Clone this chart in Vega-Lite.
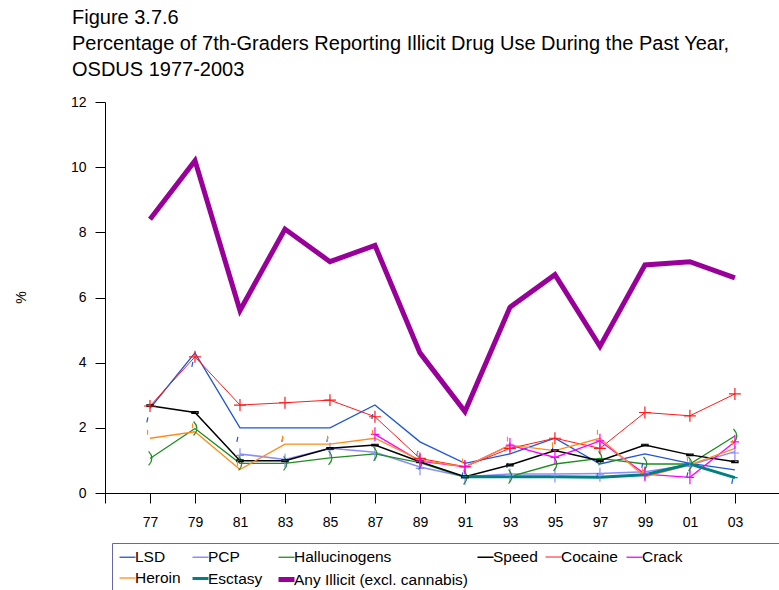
{
  "$schema": "https://vega.github.io/schema/vega-lite/v6.json",
  "width": 674,
  "height": 391,
  "autosize": {"type": "none"},
  "padding": {"left": 105, "top": 102, "right": 0, "bottom": 97},
  "background": "white",
  "config": {
    "view": {"stroke": null},
    "font": "Liberation Sans",
    "axis": {"labelFont": "Liberation Sans", "titleFont": "Liberation Sans", "labelColor": "black", "titleColor": "black", "domainColor": "black", "tickColor": "black", "domainWidth": 1, "tickWidth": 1, "grid": false},
    "legend": {
      "orient": "none", "legendX": 7, "legendY": 441, "direction": "horizontal", "columns": 6, "gridAlign": "each",
      "columnPadding": 5, "rowPadding": 3, "symbolType": "stroke", "symbolSize": 256,
      "labelFont": "Liberation Sans", "labelFontSize": 15.5, "labelColor": "black", "labelOffset": -3, "labelLimit": 300,
      "strokeColor": "#6666aa", "padding": 5, "titleOrient": "right", "titleOpacity": 0, "titleAngle": 0, "titlePadding": 100, "titleFontSize": 20
    }
  },
  "title": {
    "text": ["Figure 3.7.6", "Percentage of 7th-Graders Reporting Illicit Drug Use During the Past Year,", "OSDUS 1977-2003"],
    "anchor": "start", "frame": "group", "dx": -33, "fontSize": 20, "fontWeight": "normal", "lineHeight": 26, "offset": 15, "color": "black", "font": "Liberation Sans"
  },
  "data": {"values": [
    {"series": "LSD", "year": 1977, "pct": 2.6}, {"series": "LSD", "year": 1979, "pct": 4.3}, {"series": "LSD", "year": 1981, "pct": 2.0}, {"series": "LSD", "year": 1983, "pct": 2.0}, {"series": "LSD", "year": 1985, "pct": 2.0}, {"series": "LSD", "year": 1987, "pct": 2.7}, {"series": "LSD", "year": 1989, "pct": 1.57}, {"series": "LSD", "year": 1991, "pct": 0.91}, {"series": "LSD", "year": 1993, "pct": 1.2}, {"series": "LSD", "year": 1995, "pct": 1.68}, {"series": "LSD", "year": 1997, "pct": 0.89}, {"series": "LSD", "year": 1999, "pct": 1.2}, {"series": "LSD", "year": 2001, "pct": 0.91}, {"series": "LSD", "year": 2003, "pct": 0.71},
    {"series": "PCP", "year": 1981, "pct": 1.2}, {"series": "PCP", "year": 1983, "pct": 1.03}, {"series": "PCP", "year": 1985, "pct": 1.37}, {"series": "PCP", "year": 1987, "pct": 1.25}, {"series": "PCP", "year": 1989, "pct": 0.8}, {"series": "PCP", "year": 1991, "pct": 0.5}, {"series": "PCP", "year": 1993, "pct": 0.58}, {"series": "PCP", "year": 1995, "pct": 0.58}, {"series": "PCP", "year": 1997, "pct": 0.6}, {"series": "PCP", "year": 1999, "pct": 0.65}, {"series": "PCP", "year": 2001, "pct": 0.86}, {"series": "PCP", "year": 2003, "pct": 1.27},
    {"series": "Hallucinogens", "year": 1977, "pct": 1.06}, {"series": "Hallucinogens", "year": 1979, "pct": 1.98}, {"series": "Hallucinogens", "year": 1981, "pct": 0.91}, {"series": "Hallucinogens", "year": 1983, "pct": 0.91}, {"series": "Hallucinogens", "year": 1985, "pct": 1.08}, {"series": "Hallucinogens", "year": 1987, "pct": 1.2}, {"series": "Hallucinogens", "year": 1989, "pct": 0.93}, {"series": "Hallucinogens", "year": 1991, "pct": 0.48}, {"series": "Hallucinogens", "year": 1993, "pct": 0.5}, {"series": "Hallucinogens", "year": 1995, "pct": 0.89}, {"series": "Hallucinogens", "year": 1997, "pct": 1.06}, {"series": "Hallucinogens", "year": 1999, "pct": 0.89}, {"series": "Hallucinogens", "year": 2001, "pct": 0.89}, {"series": "Hallucinogens", "year": 2003, "pct": 1.75},
    {"series": "Speed", "year": 1977, "pct": 2.68}, {"series": "Speed", "year": 1979, "pct": 2.47}, {"series": "Speed", "year": 1981, "pct": 0.99}, {"series": "Speed", "year": 1983, "pct": 0.99}, {"series": "Speed", "year": 1985, "pct": 1.37}, {"series": "Speed", "year": 1987, "pct": 1.47}, {"series": "Speed", "year": 1989, "pct": 0.96}, {"series": "Speed", "year": 1991, "pct": 0.5}, {"series": "Speed", "year": 1993, "pct": 0.86}, {"series": "Speed", "year": 1995, "pct": 1.3}, {"series": "Speed", "year": 1997, "pct": 0.99}, {"series": "Speed", "year": 1999, "pct": 1.47}, {"series": "Speed", "year": 2001, "pct": 1.17}, {"series": "Speed", "year": 2003, "pct": 0.96},
    {"series": "Cocaine", "year": 1977, "pct": 2.67}, {"series": "Cocaine", "year": 1979, "pct": 4.18}, {"series": "Cocaine", "year": 1981, "pct": 2.7}, {"series": "Cocaine", "year": 1983, "pct": 2.77}, {"series": "Cocaine", "year": 1985, "pct": 2.85}, {"series": "Cocaine", "year": 1987, "pct": 2.34}, {"series": "Cocaine", "year": 1989, "pct": 1.06}, {"series": "Cocaine", "year": 1991, "pct": 0.81}, {"series": "Cocaine", "year": 1993, "pct": 1.37}, {"series": "Cocaine", "year": 1995, "pct": 1.68}, {"series": "Cocaine", "year": 1997, "pct": 1.37}, {"series": "Cocaine", "year": 1999, "pct": 2.47}, {"series": "Cocaine", "year": 2001, "pct": 2.37}, {"series": "Cocaine", "year": 2003, "pct": 3.04},
    {"series": "Crack", "year": 1987, "pct": 1.8}, {"series": "Crack", "year": 1989, "pct": 0.98}, {"series": "Crack", "year": 1991, "pct": 0.8}, {"series": "Crack", "year": 1993, "pct": 1.47}, {"series": "Crack", "year": 1995, "pct": 1.09}, {"series": "Crack", "year": 1997, "pct": 1.6}, {"series": "Crack", "year": 1999, "pct": 0.58}, {"series": "Crack", "year": 2001, "pct": 0.48}, {"series": "Crack", "year": 2003, "pct": 1.57},
    {"series": "Heroin", "year": 1977, "pct": 1.68}, {"series": "Heroin", "year": 1979, "pct": 1.88}, {"series": "Heroin", "year": 1981, "pct": 0.72}, {"series": "Heroin", "year": 1983, "pct": 1.5}, {"series": "Heroin", "year": 1985, "pct": 1.5}, {"series": "Heroin", "year": 1987, "pct": 1.68}, {"series": "Heroin", "year": 1989, "pct": 1.01}, {"series": "Heroin", "year": 1991, "pct": 0.8}, {"series": "Heroin", "year": 1993, "pct": 1.47}, {"series": "Heroin", "year": 1995, "pct": 1.3}, {"series": "Heroin", "year": 1997, "pct": 1.68}, {"series": "Heroin", "year": 1999, "pct": 0.5}, {"series": "Heroin", "year": 2001, "pct": 0.86}, {"series": "Heroin", "year": 2003, "pct": 1.37},
    {"series": "Esctasy", "year": 1991, "pct": 0.5}, {"series": "Esctasy", "year": 1993, "pct": 0.5}, {"series": "Esctasy", "year": 1995, "pct": 0.5}, {"series": "Esctasy", "year": 1997, "pct": 0.48}, {"series": "Esctasy", "year": 1999, "pct": 0.56}, {"series": "Esctasy", "year": 2001, "pct": 0.89}, {"series": "Esctasy", "year": 2003, "pct": 0.47},
    {"series": "Any Illicit (excl. cannabis)", "year": 1977, "pct": 8.4}, {"series": "Any Illicit (excl. cannabis)", "year": 1979, "pct": 10.2}, {"series": "Any Illicit (excl. cannabis)", "year": 1981, "pct": 5.6}, {"series": "Any Illicit (excl. cannabis)", "year": 1983, "pct": 8.1}, {"series": "Any Illicit (excl. cannabis)", "year": 1985, "pct": 7.1}, {"series": "Any Illicit (excl. cannabis)", "year": 1987, "pct": 7.6}, {"series": "Any Illicit (excl. cannabis)", "year": 1989, "pct": 4.3}, {"series": "Any Illicit (excl. cannabis)", "year": 1991, "pct": 2.5}, {"series": "Any Illicit (excl. cannabis)", "year": 1993, "pct": 5.7}, {"series": "Any Illicit (excl. cannabis)", "year": 1995, "pct": 6.7}, {"series": "Any Illicit (excl. cannabis)", "year": 1997, "pct": 4.5}, {"series": "Any Illicit (excl. cannabis)", "year": 1999, "pct": 7.0}, {"series": "Any Illicit (excl. cannabis)", "year": 2001, "pct": 7.1}, {"series": "Any Illicit (excl. cannabis)", "year": 2003, "pct": 6.6}
  ]},
  "encoding": {
    "x": {"field": "year", "type": "quantitative", "scale": {"domain": [1975, 2004.96], "nice": false, "zero": false},
      "axis": {"values": [1975, 1977, 1979, 1981, 1983, 1985, 1987, 1989, 1991, 1993, 1995, 1997, 1999, 2001, 2003],
        "labelExpr": "datum.value == 1975 ? '' : substring(toString(datum.value), 2)", "tickSize": 10, "labelPadding": 12, "labelFontSize": 14, "title": null, "labelFlush": false, "labelOverlap": false}},
    "y": {"field": "pct", "type": "quantitative", "scale": {"domain": [0, 12], "nice": false},
      "axis": {"values": [0, 2, 4, 6, 8, 10, 12], "tickSize": 10, "labelPadding": 9, "labelFontSize": 14, "title": "%", "titleFontSize": 14, "titleFontWeight": "normal", "titleX": -77, "titleY": 195}}
  },
  "layer": [
    {
      "mark": {"type": "line", "clip": false},
      "encoding": {
        "color": {"field": "series", "type": "nominal", "title": "                        ",
          "scale": {"domain": ["LSD", "PCP", "Hallucinogens", "Speed", "Cocaine", "Crack", "Heroin", "Esctasy", "Any Illicit (excl. cannabis)"],
            "range": ["#1f55d6", "#8c8cff", "#1e8c1e", "#000000", "#ff1a1a", "#ff00ff", "#ff8c1a", "#008080", "#990099"]}},
        "strokeWidth": {"field": "series", "type": "ordinal", "title": "                        ",
          "scale": {"type": "ordinal", "domain": ["LSD", "PCP", "Hallucinogens", "Speed", "Cocaine", "Crack", "Heroin", "Esctasy", "Any Illicit (excl. cannabis)"],
            "range": [1.3, 1.5, 1.3, 1.5, 1, 1.3, 1.3, 3, 5]}}
      }
    },
    {
      "transform": [{"filter": "datum.series != 'Any Illicit (excl. cannabis)'"}],
      "mark": {"type": "point", "filled": false, "size": 196, "strokeWidth": 1.2, "opacity": 1},
      "encoding": {
        "shape": {"field": "series", "type": "nominal", "legend": null,
          "scale": {"domain": ["LSD", "PCP", "Hallucinogens", "Speed", "Cocaine", "Crack", "Heroin", "Esctasy"],
            "range": ["M-0.3,1.3L-0.45,2", "M-0.6,0.2L0.6,0.2M0,-0.8L0,1.2", "M-0.2,-1Q0.75,0 -0.2,1", "M-0.45,-0.12L0.45,-0.12L0.45,0.12L-0.45,0.12Z", "M-0.85,0L0.85,0M0,-0.85L0,0.85", "M-0.6,0L0.6,0M0,-1L0,1", "M-0.35,-1.2L-0.35,-0.5", "M-0.4,0L0.4,0"]}},
        "stroke": {"field": "series", "type": "nominal", "legend": null,
          "scale": {"domain": ["LSD", "PCP", "Hallucinogens", "Speed", "Cocaine", "Crack", "Heroin", "Esctasy"],
            "range": ["#1f55d6", "#8c8cff", "#1e8c1e", "#000000", "#ff1a1a", "#ff00ff", "#ff8c1a", "#008080"]}}
      }
    }
  ]
}
